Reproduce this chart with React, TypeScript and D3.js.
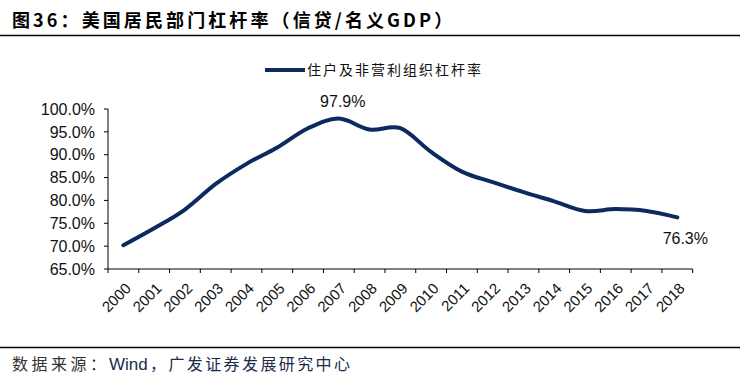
import React from "react";
import * as d3 from "d3";

const years = ["2000","2001","2002","2003","2004","2005","2006","2007","2008","2009","2010","2011","2012","2013","2014","2015","2016","2017","2018"];
const leverage = [70.2, 73.9, 78.0, 83.6, 88.0, 91.6, 95.8, 97.9, 95.5, 95.8, 90.6, 86.3, 84.0, 81.8, 79.8, 77.7, 78.1, 77.7, 76.3];
const yTicks = [65, 70, 75, 80, 85, 90, 95, 100];
const seriesName = "住户及非营利组织杠杆率";
const title = "图36：美国居民部门杠杆率（信贷/名义GDP）";
const sourceLabel = "数据来源：";
const sourceText1 = "Wind";
const sourceText2 = "，广发证券发展研究中心";

const W = 740, H = 377;
const x0 = 108, x1 = 692.7, yTop = 109, yBot = 269;
const navy = "#0c2a5e";
const latin = "'Liberation Sans', Arial, sans-serif";
const cjk = "'Noto Sans CJK SC', 'Liberation Sans', sans-serif";

export default function App() {
  const x = d3.scaleBand<string>().domain(years).range([x0, x1]).padding(0);
  const y = d3.scaleLinear().domain([65, 100]).range([yBot, yTop]);
  const cx = (i: number) => (x(years[i]) as number) + x.bandwidth() / 2;
  const line = d3.line<number>().x((_, i) => cx(i)).y((d) => y(d)).curve(d3.curveCardinal.tension(0));
  const path = line(leverage) || "";
  const peakIdx = leverage.indexOf(d3.max(leverage) as number);
  const last = leverage.length - 1;
  const boundaries = years.map((yr) => x(yr) as number).concat([x1]);

  return (
    <svg width={W} height={H} style={{ position: "absolute", left: 0, top: 0, background: "#fff" }}>
      <rect x={0} y={0} width={W} height={H} fill="#fff" />
      <text x={12} y={27} fontFamily={cjk} fontWeight="bold" fontSize={18} letterSpacing={3.1} fill="#000">{title}</text>
      <line x1={0} x2={W} y1={35.5} y2={35.5} stroke="#000" strokeWidth={1.5} />

      {/* legend */}
      <line x1={265} x2={305} y1={70} y2={70} stroke={navy} strokeWidth={4} />
      <text x={307} y={75} fontFamily={cjk} fontSize={14} letterSpacing={2} fill="#111">{seriesName}</text>

      {/* y axis */}
      <line x1={x0} x2={x0} y1={yTop} y2={yBot} stroke="#000" strokeWidth={1} />
      {yTicks.map((t) => (
        <g key={t}>
          <line x1={x0 - 4} x2={x0} y1={y(t)} y2={y(t)} stroke="#000" strokeWidth={1} />
          <text x={95} y={y(t)} dy="0.36em" textAnchor="end" fontFamily={latin} fontSize={16} fill="#111">{t.toFixed(1) + "%"}</text>
        </g>
      ))}

      {/* x axis */}
      <line x1={x0} x2={x1} y1={yBot} y2={yBot} stroke="#000" strokeWidth={1} />
      {boundaries.map((b, i) => (
        <line key={i} x1={b} x2={b} y1={yBot} y2={yBot + 4} stroke="#000" strokeWidth={1} />
      ))}
      {years.map((yr, i) => (
        <text key={yr} transform={`translate(${cx(i) + 1},${yBot + 13}) rotate(-45)`} dy="0.7em" textAnchor="end" fontFamily={latin} fontSize={15} fill="#111">{yr}</text>
      ))}

      {/* series */}
      <path d={path} fill="none" stroke={navy} strokeWidth={4} strokeLinecap="round" />
      <text x={cx(peakIdx) + 4} y={107} textAnchor="middle" fontFamily={latin} fontSize={16} fill="#111">{leverage[peakIdx].toFixed(1) + "%"}</text>
      <text x={cx(last) + 8} y={244} textAnchor="middle" fontFamily={latin} fontSize={16} fill="#111">{leverage[last].toFixed(1) + "%"}</text>

      {/* footer */}
      <line x1={0} x2={W} y1={347.5} y2={347.5} stroke="#000" strokeWidth={1.5} />
      <text x={12} y={370} fontFamily={cjk} fontSize={16} letterSpacing={3.5} fill="#333">{sourceLabel}</text>
      <text x={109} y={370} fontFamily={latin} fontSize={17} fill="#1a2b4a">{sourceText1}</text>
      <text x={150} y={370} fontFamily={cjk} fontSize={16} letterSpacing={2.4} fill="#1a2b4a">{sourceText2}</text>
    </svg>
  );
}
